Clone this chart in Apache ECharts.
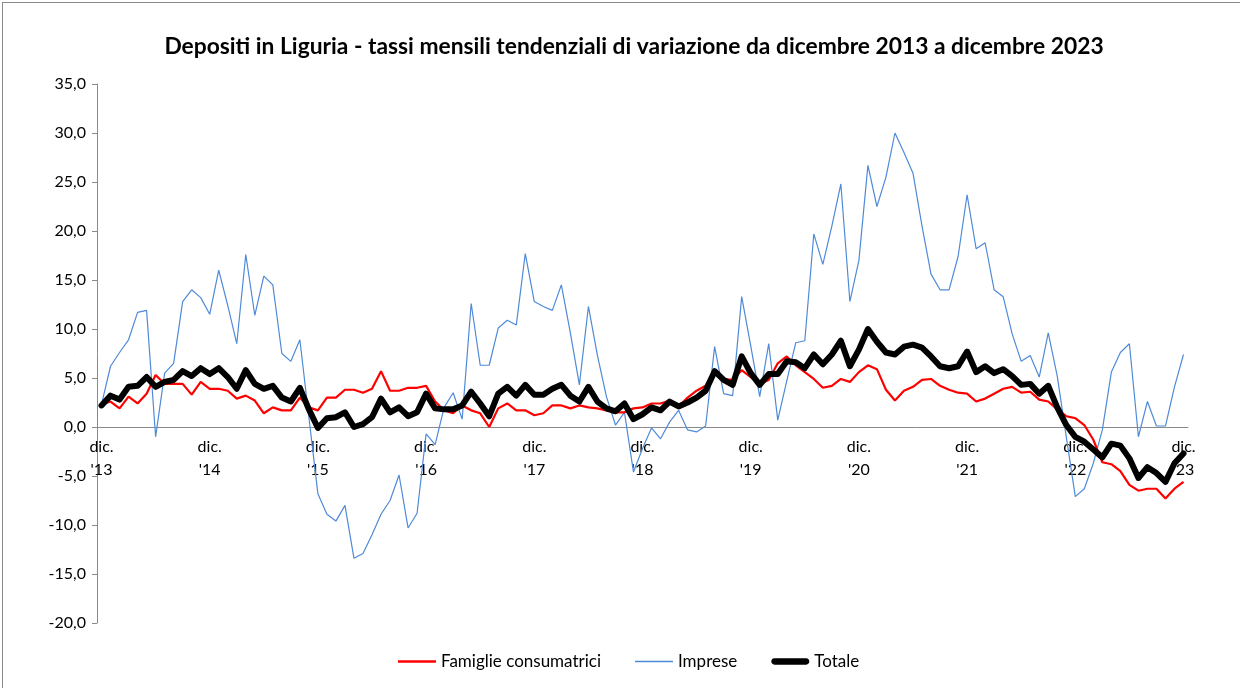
<!DOCTYPE html>
<html>
<head>
    <meta charset="UTF-8">
    <title>Depositi in Liguria</title>
    <script src="https://cdn.jsdelivr.net/npm/echarts@6/dist/echarts.min.js"></script>
    <style>
        html, body { margin: 0; padding: 0; width: 100%; height: 100%; background: #fff; }
        #main { position: absolute; left: 0; top: 0; width: 1240px; height: 688px; }
        #frame { position: absolute; left: 2px; top: 2px; width: 1300px; height: 700px;
                 border-left: 1px solid #8a8a8a; border-top: 1px solid #8a8a8a; pointer-events: none; }
    </style>
</head>
<body>
    <div id="main"></div>
    <div id="frame"></div>
    <script type="text/javascript">
        // mesi: da dicembre 2013 a dicembre 2023
        var mesi = ['gen.', 'feb.', 'mar.', 'apr.', 'mag.', 'giu.', 'lug.', 'ago.', 'set.', 'ott.', 'nov.', 'dic.'];
        var primoAnno = 13, nMesi = 121;

        var famiglie = [
            2.3, 2.6, 1.9, 3.1, 2.4, 3.4, 5.3, 4.4, 4.4, 4.4, 3.3, 4.6,
            3.9, 3.9, 3.7, 2.9, 3.2, 2.7, 1.4, 2.0, 1.7, 1.7, 3.0, 2.0,
            1.7, 3.0, 3.0, 3.8, 3.8, 3.5, 3.9, 5.7, 3.7, 3.7, 4.0, 4.0,
            4.2, 2.6, 1.7, 1.4, 2.2, 1.7, 1.4, 0.0, 1.9, 2.4, 1.7, 1.7,
            1.2, 1.4, 2.2, 2.2, 1.9, 2.2, 2.0, 1.9, 1.7, 1.5, 1.5, 1.9,
            2.0, 2.4, 2.4, 2.7, 2.1, 3.0, 3.7, 4.2, 5.8, 4.9, 4.8, 5.8,
            5.1, 4.4, 4.8, 6.5, 7.2, 6.3, 5.6, 4.9, 4.0, 4.2, 4.9, 4.6,
            5.6, 6.3, 5.9, 3.8, 2.7, 3.7, 4.1, 4.8, 4.9, 4.2, 3.8, 3.5,
            3.4, 2.6, 2.9, 3.4, 3.9, 4.1, 3.5, 3.6, 2.8, 2.6, 1.8, 1.1,
            0.9, 0.2, -1.3, -3.6, -3.8, -4.5, -5.9, -6.5, -6.3, -6.3, -7.3, -6.3,
            -5.6
        ];
        var imprese = [
            2.3, 6.2, 7.6, 8.9, 11.7, 11.9, -1.0, 5.5, 6.5, 12.8, 14.0, 13.2,
            11.5, 16.0, 12.4, 8.5, 17.6, 11.4, 15.4, 14.5, 7.5, 6.7, 8.9, 1.0,
            -6.8, -8.9, -9.6, -8.0, -13.4, -12.9, -11.0, -8.9, -7.5, -4.9, -10.3, -8.8,
            -0.7, -1.8, 2.0, 3.5, 0.8, 12.6, 6.3, 6.3, 10.1, 10.9, 10.4, 17.7,
            12.8, 12.3, 11.9, 14.5, 9.6, 4.3, 12.3, 7.3, 3.1, 0.2, 1.5, -4.6,
            -2.2, -0.1, -1.2, 0.5, 1.7, -0.3, -0.5, 0.1, 8.2, 3.4, 3.2, 13.3,
            8.3, 3.1, 8.5, 0.7, 4.7, 8.6, 8.8, 19.7, 16.6, 20.5, 24.8, 12.8,
            17.0, 26.7, 22.5, 25.5, 30.0, 28.0, 25.9, 20.5, 15.6, 14.0, 14.0, 17.4,
            23.7, 18.2, 18.8, 14.0, 13.3, 9.5, 6.7, 7.3, 5.1, 9.6, 5.2, -1.0,
            -7.1, -6.3, -3.7, -0.3, 5.6, 7.6, 8.5, -1.0, 2.6, 0.1, 0.1, 4.1,
            7.4
        ];
        var totale = [
            2.2, 3.2, 2.8, 4.1, 4.2, 5.1, 4.1, 4.6, 4.8, 5.7, 5.2, 6.0,
            5.4, 6.0, 5.1, 3.9, 5.8, 4.4, 3.9, 4.2, 3.0, 2.6, 4.0, 1.8,
            -0.1, 0.9, 1.0, 1.5, 0.0, 0.3, 1.0, 2.9, 1.5, 2.0, 1.1, 1.5,
            3.4, 1.9, 1.8, 1.8, 2.2, 3.6, 2.4, 1.1, 3.4, 4.1, 3.2, 4.3,
            3.3, 3.3, 3.9, 4.3, 3.2, 2.6, 4.1, 2.6, 1.9, 1.6, 2.4, 0.8,
            1.3, 2.0, 1.7, 2.6, 2.1, 2.5, 3.0, 3.7, 5.7, 4.8, 4.3, 7.2,
            5.5, 4.3, 5.4, 5.4, 6.7, 6.6, 6.0, 7.4, 6.4, 7.4, 8.8, 6.2,
            7.9, 10.0, 8.7, 7.6, 7.4, 8.2, 8.4, 8.1, 7.2, 6.2, 6.0, 6.2,
            7.7, 5.6, 6.2, 5.5, 5.9, 5.2, 4.3, 4.4, 3.4, 4.2, 2.0, 0.2,
            -1.0, -1.5, -2.3, -3.1, -1.7, -1.9, -3.2, -5.2, -4.1, -4.7, -5.6, -3.7,
            -2.7
        ];

        var categorie = [];
        for (var i = 0; i < nMesi; i++) {
            var m = (11 + i) % 12;
            var a = primoAnno + Math.floor((11 + i) / 12);
            categorie.push(mesi[m] + '\n\'' + a);
        }

        var font = 'Lato, "Open Sans", sans-serif';
        var myChart = echarts.init(document.getElementById('main'), null, { renderer: 'canvas' });

        // asse x sullo zero: grid alta 539px da -20 a 35, lo zero sta 196px sopra il fondo
        var yMin = -20, yMax = 35, gridTop = 84, gridBottom = 65;
        var plotH = 688 - gridTop - gridBottom;
        var zeroOffset = -plotH * (0 - yMin) / (yMax - yMin);

        var option = {
            backgroundColor: '#fff',
            animation: false,
            title: {
                text: 'Depositi in Liguria - tassi mensili tendenziali di variazione da dicembre 2013 a dicembre 2023',
                left: 629,
                top: 30,
                textAlign: 'center',
                textStyle: { fontFamily: font, fontWeight: 'bold', fontSize: 22.8, color: '#000' }
            },
            legend: {
                bottom: 13,
                left: 393,
                itemWidth: 38,
                itemHeight: 8,
                itemGap: 34,
                textStyle: { fontFamily: font, fontSize: 17, color: '#000' },
                data: [
                    { name: 'Famiglie consumatrici', icon: 'path://M0,0H36V2.2H0Z' },
                    { name: 'Imprese', icon: 'path://M0,0H36V1.3H0Z' },
                    { name: 'Totale', icon: 'path://M3,0H33C37,0 37,6 33,6H3C-1,6 -1,0 3,0Z' }
                ]
            },
            grid: { left: 97, right: 52, top: gridTop, bottom: gridBottom },
            xAxis: {
                type: 'category',
                data: categorie,
                boundaryGap: true,
                offset: zeroOffset,
                axisLine: { onZero: false, lineStyle: { color: '#8a8a8a', width: 1 } },
                axisTick: { interval: 11, length: 5, lineStyle: { color: '#8a8a8a' } },
                axisLabel: {
                    interval: 11,
                    margin: 8,
                    fontFamily: font,
                    fontSize: 16,
                    lineHeight: 23,
                    color: '#000'
                },
                splitLine: { show: false }
            },
            yAxis: {
                type: 'value',
                min: yMin,
                max: yMax,
                interval: 5,
                axisLine: { show: true, lineStyle: { color: '#8a8a8a', width: 1 } },
                axisTick: { show: true, length: 5, lineStyle: { color: '#8a8a8a' } },
                axisLabel: {
                    margin: 11,
                    fontFamily: font,
                    fontSize: 16,
                    color: '#000',
                    formatter: function (v) { return v.toFixed(1).replace('.', ','); }
                },
                splitLine: { show: false }
            },
            series: [
                {
                    name: 'Famiglie consumatrici',
                    type: 'line',
                    data: famiglie,
                    symbol: 'none',
                    z: 2,
                    color: '#ff0000',
                    lineStyle: { color: '#ff0000', width: 2.2 }
                },
                {
                    name: 'Imprese',
                    type: 'line',
                    data: imprese,
                    symbol: 'none',
                    z: 1,
                    color: '#4f8ad8',
                    lineStyle: { color: '#4f8ad8', width: 1.2 }
                },
                {
                    name: 'Totale',
                    type: 'line',
                    data: totale,
                    symbol: 'none',
                    z: 3,
                    color: '#000',
                    lineStyle: { color: '#000', width: 6, cap: 'round', join: 'round' }
                }
            ]
        };

        myChart.setOption(option);
    </script>
</body>
</html>
